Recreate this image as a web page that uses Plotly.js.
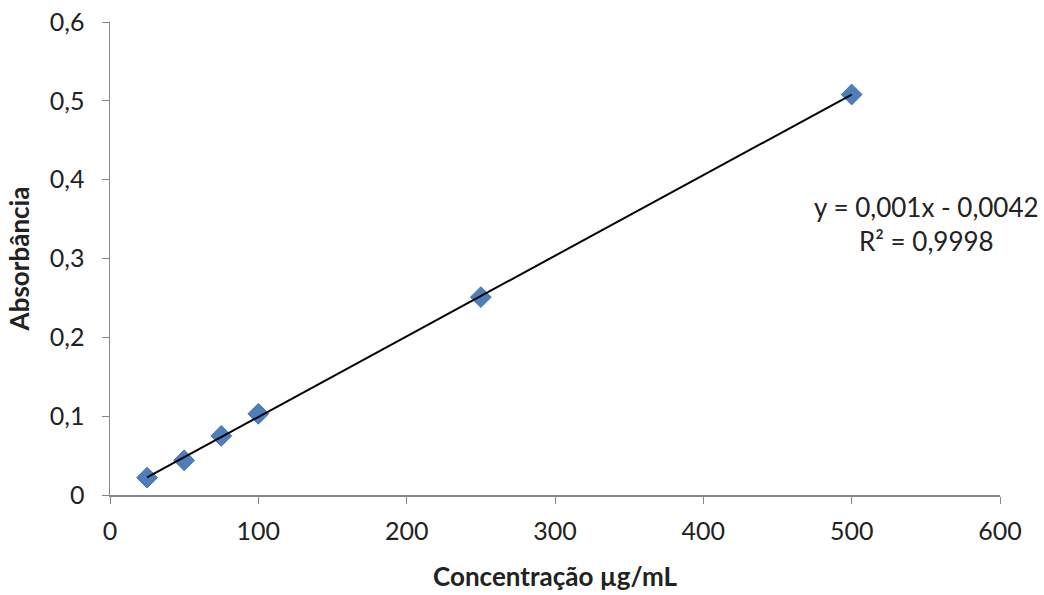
<!DOCTYPE html>
<html><head><meta charset="utf-8">
<script src="https://cdn.plot.ly/plotly-3.0.1.min.js"></script>
<style>html,body{margin:0;padding:0;background:#fff}#c{width:1044px;height:595px}</style>
</head><body><div id="c"></div>
<script>
const concentracao = [25, 50, 75, 100, 250, 500];
const absorbancia = [0.022, 0.044, 0.075, 0.103, 0.251, 0.508];
const equationText = "y = 0,001x - 0,0042";
const r2Text = "R² = 0,9998";
const xTicks = [0, 100, 200, 300, 400, 500, 600];
const yTicks = [0, 0.1, 0.2, 0.3, 0.4, 0.5, 0.6];

// least squares fit from data
const n = concentracao.length;
const mx = concentracao.reduce((a,b)=>a+b,0)/n;
const my = absorbancia.reduce((a,b)=>a+b,0)/n;
let sxy=0, sxx=0;
for(let i=0;i<n;i++){sxy+=(concentracao[i]-mx)*(absorbancia[i]-my);sxx+=(concentracao[i]-mx)**2;}
const slope = sxy/sxx, icpt = my - slope*mx;
const xFit = [Math.min(...concentracao), Math.max(...concentracao)];
const yFit = xFit.map(x=>slope*x+icpt);

const font = "Lato, 'Open Sans', sans-serif";
const data = [
  {x: concentracao, y: absorbancia, type:'scatter', mode:'markers',
   marker:{symbol:'diamond', size:16, color:'#4f7fba', line:{color:'#4272ad', width:1}}},
  {x: xFit, y: yFit, type:'scatter', mode:'lines', line:{color:'#000', width:2}}
];
const layout = {
  width:1044, height:595, showlegend:false,
  separators: ', ',
  paper_bgcolor:'#fff', plot_bgcolor:'#fff',
  margin:{l:110, r:44, t:22, b:100},
  font:{family:font, color:'#222', size:25},
  xaxis:{range:[0,600], tickvals:xTicks, showgrid:false, zeroline:false,
    showline:true, linecolor:'#868686', linewidth:1.5, ticks:'outside', ticklen:7, tickcolor:'#868686',
    tickfont:{size:25, color:'#222'}, ticklabelstandoff:6,
    title:{text:'Concentração µg/mL', font:{size:26, color:'#222', weight:'bold'}, standoff:24}},
  yaxis:{range:[0,0.6], tickvals:yTicks, showgrid:false, zeroline:false,
    showline:true, linecolor:'#868686', linewidth:1.5, ticks:'outside', ticklen:7, tickcolor:'#868686',
    tickfont:{size:25, color:'#222'}, ticklabelstandoff:12,
    title:{text:'Absorbância', font:{size:26, color:'#222', weight:'bold'}, standoff:12}},
  annotations:[
    {x:500, y:0.4, xref:'x', yref:'y', xshift:75, yshift:-44, text:equationText+'<br>'+r2Text, showarrow:false,
     align:'center', font:{size:26, color:'#222', family:font}}
  ]
};
Plotly.newPlot('c', data, layout, {displayModeBar:false, staticPlot:true});
</script></body></html>
